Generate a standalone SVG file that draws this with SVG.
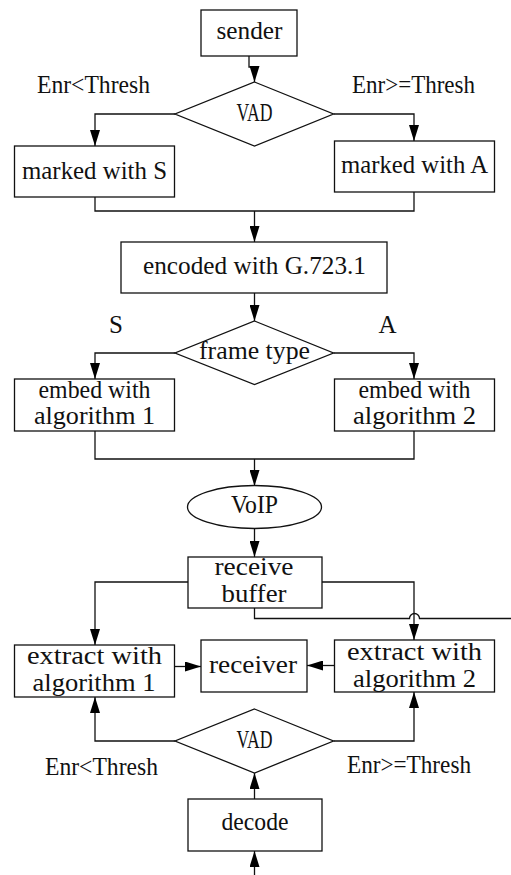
<svg xmlns="http://www.w3.org/2000/svg" width="511" height="875" viewBox="0 0 511 875">
<style>
  .box { fill: #fff; stroke: #111; stroke-width: 1.3; }
  .ln { fill: none; stroke: #111; stroke-width: 1.3; }
  .t { font-family: "Liberation Serif", "DejaVu Serif", serif; font-size: 25px; fill: #111; text-anchor: middle; }
  .ts { font-family: "Liberation Serif", "DejaVu Serif", serif; font-size: 25px; fill: #111; text-anchor: start; }
</style>
<defs>
  <marker id="arr" markerUnits="userSpaceOnUse" markerWidth="16" markerHeight="10" refX="16" refY="5" orient="auto">
    <path d="M0,0 L16,5 L0,10 z" fill="#000"/>
  </marker>
</defs>
<rect width="511" height="875" fill="#fff"/>

<g id="connectors">
  <path class="ln" d="M249,56 V67 H254.5 V82" marker-end="url(#arr)"/>
  <path class="ln" d="M175,114 H95 V146" marker-end="url(#arr)"/>
  <path class="ln" d="M333.5,114 H414 V141" marker-end="url(#arr)"/>
  <path class="ln" d="M95,197 V211 H414 V192"/>
  <path class="ln" d="M254.5,211 V242" marker-end="url(#arr)"/>
  <path class="ln" d="M254.5,293 V321" marker-end="url(#arr)"/>
  <path class="ln" d="M175,353 H95 V379" marker-end="url(#arr)"/>
  <path class="ln" d="M333.5,353 H414 V379" marker-end="url(#arr)"/>
  <path class="ln" d="M95,431 V459 H414 V431"/>
  <path class="ln" d="M254.5,459 V486" marker-end="url(#arr)"/>
  <path class="ln" d="M254.5,528.5 V557" marker-end="url(#arr)"/>
  <path class="ln" d="M188,582 H95 V645" marker-end="url(#arr)"/>
  <path class="ln" d="M322,582 H414 V640" marker-end="url(#arr)"/>
  <path class="ln" d="M254.5,608 V618.5 H409.5 A5,5 0 0 1 419.5,618.5 H511"/>
  <path class="ln" d="M174.5,666.5 H201" marker-end="url(#arr)"/>
  <path class="ln" d="M334.5,665.5 H307" marker-end="url(#arr)"/>
  <path class="ln" d="M175,741 H95 V697" marker-end="url(#arr)"/>
  <path class="ln" d="M333.5,741 H414 V692" marker-end="url(#arr)"/>
  <path class="ln" d="M254.5,799 V773" marker-end="url(#arr)"/>
  <path class="ln" d="M254.5,875 V851" marker-end="url(#arr)"/>
</g>

<g id="labels">
  <text class="ts" x="37" y="93" textLength="113" lengthAdjust="spacingAndGlyphs">Enr&lt;Thresh</text>
  <text class="ts" x="352" y="93" textLength="123" lengthAdjust="spacingAndGlyphs">Enr&gt;=Thresh</text>
  <text class="t" x="116" y="333">S</text>
  <text class="t" x="387.5" y="333">A</text>
  <text class="ts" x="45" y="775" textLength="113" lengthAdjust="spacingAndGlyphs">Enr&lt;Thresh</text>
  <text class="ts" x="347" y="773" textLength="124" lengthAdjust="spacingAndGlyphs">Enr&gt;=Thresh</text>
</g>

<g id="sender">
  <rect class="box" x="201" y="10" width="96" height="46"/>
  <text class="t" x="249.5" y="39" textLength="66" lengthAdjust="spacingAndGlyphs">sender</text>
</g>
<g id="vad1">
  <polygon class="box" points="254.5,82 333.5,114 254.5,146 175,114"/>
  <text class="t" x="254.5" y="121" textLength="36" lengthAdjust="spacingAndGlyphs">VAD</text>
</g>
<g id="markedS">
  <rect class="box" x="14.5" y="146" width="160" height="51"/>
  <text class="t" x="94.5" y="179" textLength="145" lengthAdjust="spacingAndGlyphs">marked with S</text>
</g>
<g id="markedA">
  <rect class="box" x="334.5" y="141" width="160" height="51"/>
  <text class="t" x="414.5" y="173" textLength="147" lengthAdjust="spacingAndGlyphs">marked with A</text>
</g>
<g id="encoded">
  <rect class="box" x="121" y="242" width="266" height="51"/>
  <text class="t" x="254.5" y="274" textLength="223" lengthAdjust="spacingAndGlyphs">encoded with G.723.1</text>
</g>
<g id="frametype">
  <polygon class="box" points="254.5,321 333.5,353 254.5,384.5 175,353"/>
  <text class="t" x="254.5" y="359" textLength="111" lengthAdjust="spacingAndGlyphs">frame type</text>
</g>
<g id="embed1">
  <rect class="box" x="14.5" y="379" width="160" height="52"/>
  <text class="t" x="94.5" y="398" textLength="112" lengthAdjust="spacingAndGlyphs">embed with</text>
  <text class="t" x="94.5" y="424" textLength="121" lengthAdjust="spacingAndGlyphs">algorithm 1</text>
</g>
<g id="embed2">
  <rect class="box" x="334.5" y="379" width="160" height="52"/>
  <text class="t" x="414.5" y="398" textLength="112" lengthAdjust="spacingAndGlyphs">embed with</text>
  <text class="t" x="414.5" y="424" textLength="123" lengthAdjust="spacingAndGlyphs">algorithm 2</text>
</g>
<g id="voip">
  <ellipse class="box" cx="254.5" cy="507" rx="67" ry="21.5"/>
  <text class="t" x="254.5" y="513" textLength="47" lengthAdjust="spacingAndGlyphs">VoIP</text>
</g>
<g id="receivebuffer">
  <rect class="box" x="188" y="557" width="134" height="51"/>
  <text class="t" x="254" y="575" textLength="79" lengthAdjust="spacingAndGlyphs">receive</text>
  <text class="t" x="254" y="602" textLength="65" lengthAdjust="spacingAndGlyphs">buffer</text>
</g>
<g id="extract1">
  <rect class="box" x="14.5" y="645" width="160" height="52"/>
  <text class="t" x="94.5" y="664" textLength="135" lengthAdjust="spacingAndGlyphs">extract with</text>
  <text class="t" x="94" y="691" textLength="123" lengthAdjust="spacingAndGlyphs">algorithm 1</text>
</g>
<g id="receiver">
  <rect class="box" x="201" y="640" width="106" height="52"/>
  <text class="t" x="253" y="673" textLength="88" lengthAdjust="spacingAndGlyphs">receiver</text>
</g>
<g id="extract2">
  <rect class="box" x="334.5" y="640" width="160" height="52"/>
  <text class="t" x="414.5" y="660" textLength="135" lengthAdjust="spacingAndGlyphs">extract with</text>
  <text class="t" x="414.5" y="686.5" textLength="123" lengthAdjust="spacingAndGlyphs">algorithm 2</text>
</g>
<g id="vad2">
  <polygon class="box" points="254.5,709 333.5,741 254.5,773 175,741"/>
  <text class="t" x="254.5" y="747.5" textLength="36" lengthAdjust="spacingAndGlyphs">VAD</text>
</g>
<g id="decode">
  <rect class="box" x="188" y="799" width="134" height="52"/>
  <text class="t" x="255" y="830" textLength="67" lengthAdjust="spacingAndGlyphs">decode</text>
</g>
</svg>
